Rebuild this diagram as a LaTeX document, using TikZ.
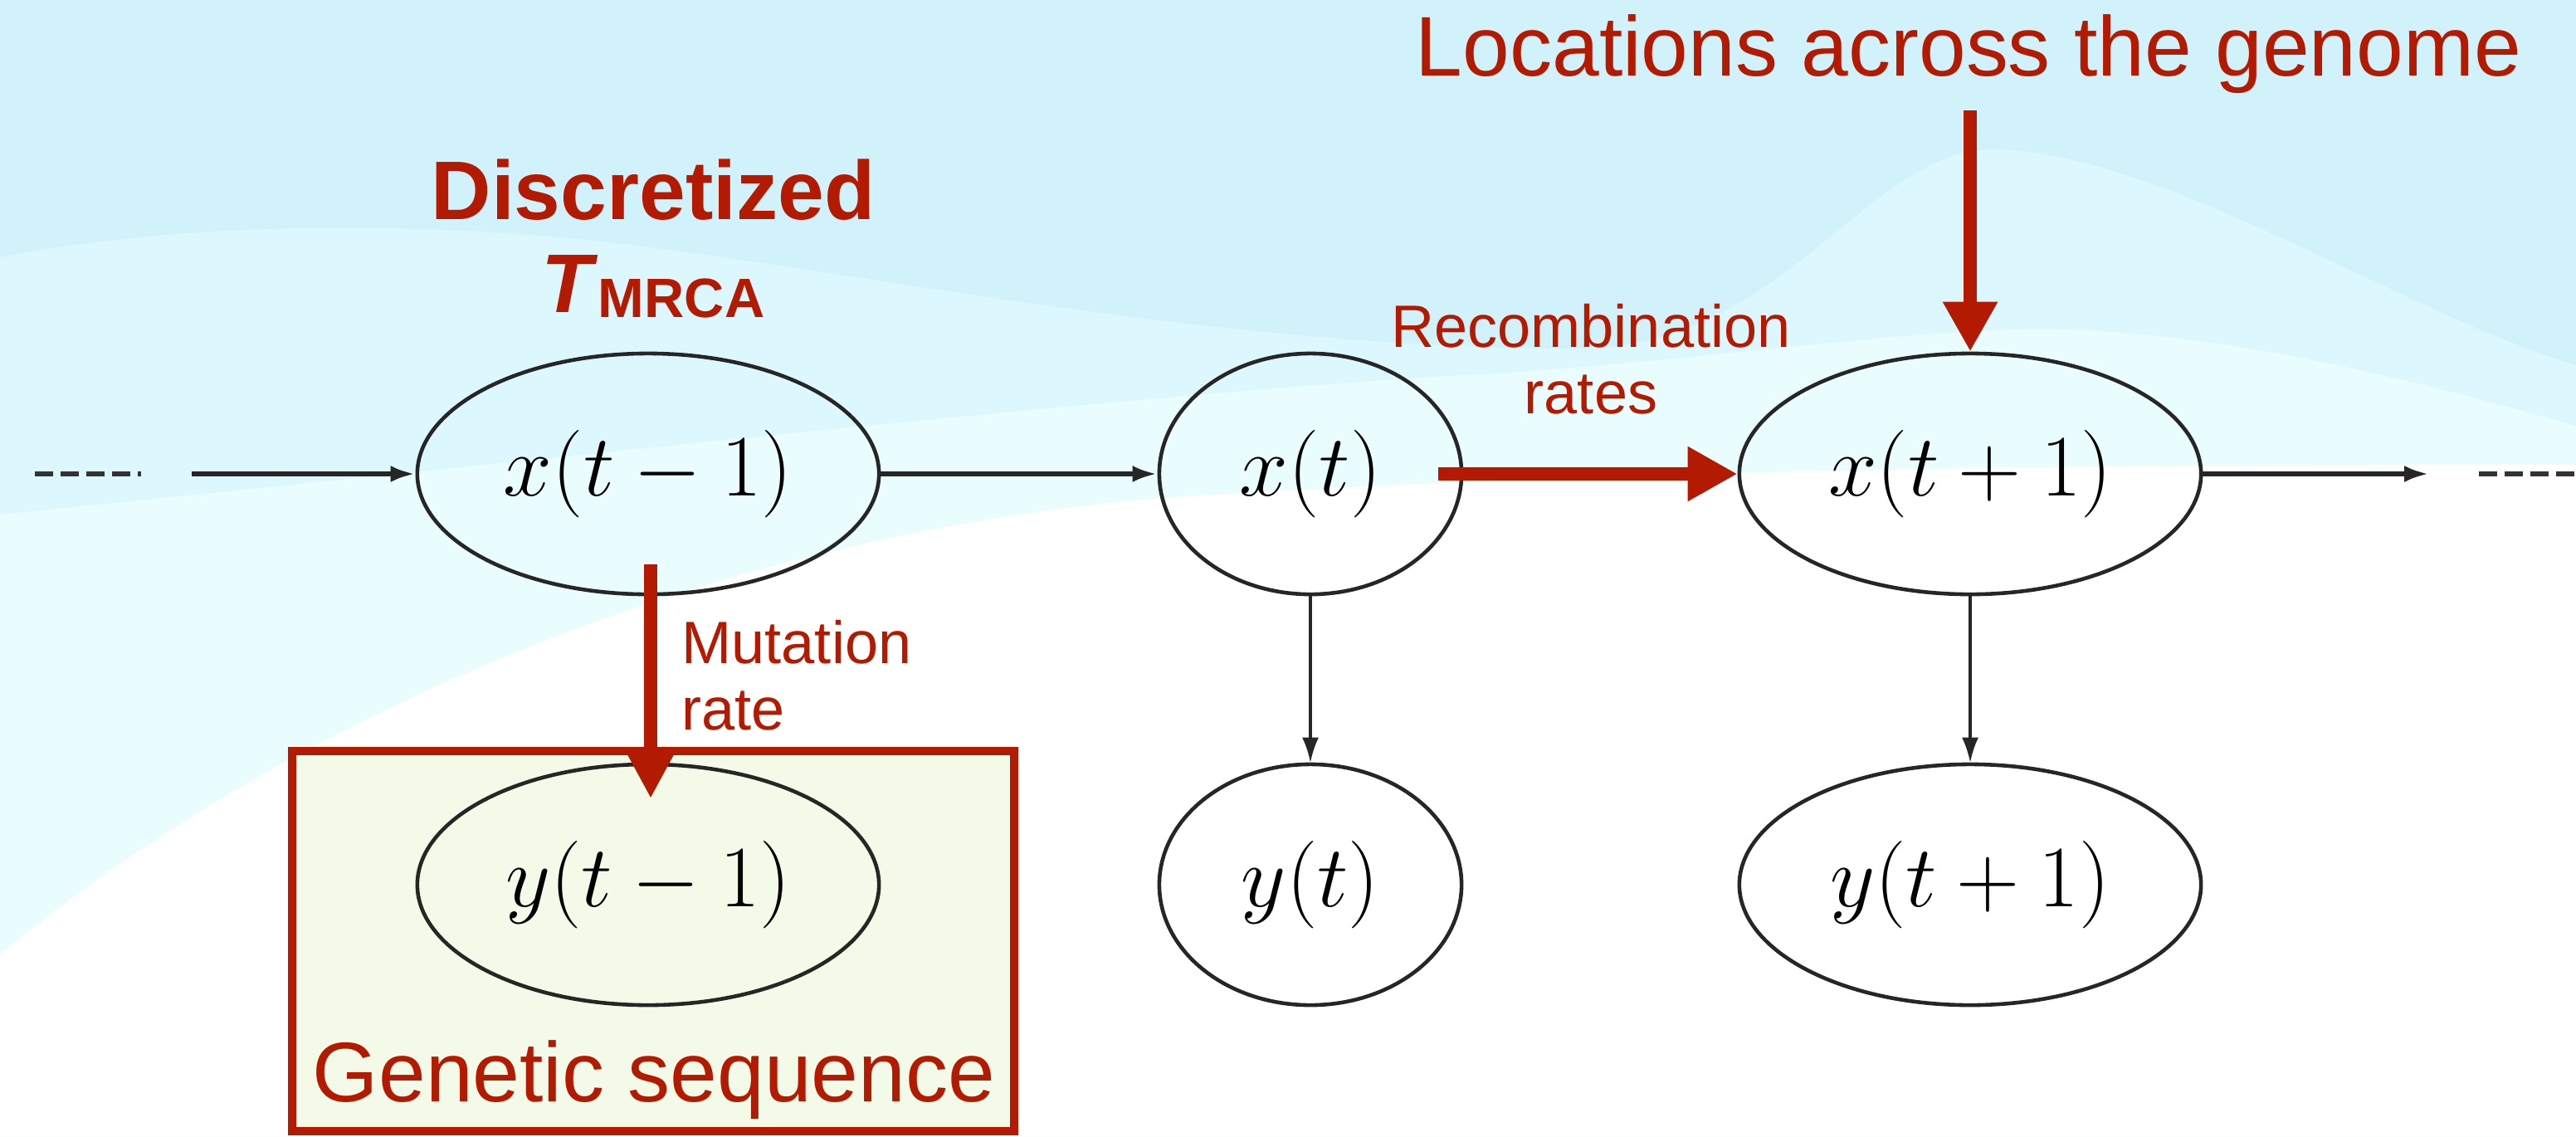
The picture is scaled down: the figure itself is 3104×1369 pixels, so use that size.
\RequirePackage{fix-cm}
\documentclass[tikz,border=0pt]{standalone}
\usepackage{fontspec}
\newfontfamily\hfont{Liberation Sans}
\usetikzlibrary{shapes.geometric,arrows.meta}
\definecolor{hred}{RGB}{178,26,2}
\definecolor{bgtop}{RGB}{209,241,251}
\definecolor{bgmid}{RGB}{220,247,253}
\definecolor{bglow}{RGB}{233,252,254}
\definecolor{seqfill}{RGB}{244,250,232}

\begin{document}
\begin{tikzpicture}[x=0.01cm,y=-0.01cm,
  hmmnode/.style={ellipse,draw=black!85,line width=1.3pt,inner sep=0pt,minimum height=2.9cm,font=\fontsize{30}{36}\selectfont},
  widenode/.style={hmmnode,minimum width=5.56cm},
  narrownode/.style={hmmnode,minimum width=3.64cm},
  lbl/.style={text=hred,inner sep=0pt,font=\hfont\fontsize{20.5}{22.5}\selectfont},
  biglbl/.style={text=hred,inner sep=0pt,font=\hfont\fontsize{29}{34}\selectfont},
  flow/.style={black!85,line width=1.8pt,-{Latex[length=0.3cm,width=0.2cm]}},
  emit/.style={black!85,line width=0.9pt,-{Latex[length=0.3cm,width=0.2cm]}},
  redarr/.style={hred,line width=4.6pt,-{Triangle[length=0.6cm,width=0.62cm]}},
  dashline/.style={black!80,line width=1.8pt,dash pattern=on 0.22cm off 0.09cm}]
\useasboundingbox (0,0) rectangle (3104,1369);
\clip (0,0) rectangle (3104,1369);
% background waves
\fill[bgtop] (0,0) rectangle (3104,1369);
\fill[bgmid] (0,310) .. controls (200,270) and (500,260) .. (800,300) .. controls (1100,340) and (1500,420) .. (1900,420) .. controls (2150,420) and (2250,180) .. (2400,180) .. controls (2600,180) and (2900,380) .. (3104,440) -- (3104,1369) -- (0,1369) -- cycle;
\fill[bglow] (0,620) .. controls (600,560) and (1400,470) .. (1800,450) .. controls (2100,430) and (2300,395) .. (2475,397) .. controls (2700,400) and (2950,470) .. (3104,513) -- (3104,1369) -- (0,1369) -- cycle;
\fill[white] (0,1150) .. controls (300,900) and (800,650) .. (1400,600) .. controls (2000,560) and (2700,560) .. (3104,560) -- (3104,1369) -- (0,1369) -- cycle;
% observed sequence box
\draw[hred,line width=3.1pt,fill=seqfill] (352,905) rectangle (1222,1363);
% hidden and observed states
\node[widenode] (xm) at (781,571) {$x(t-1)$};
\node[narrownode] (x0) at (1579,571) {$x(t)$};
\node[widenode] (xp) at (2374,571) {$x(t+1)$};
\node[widenode] (ym) at (781,1066) {$y(t-1)$};
\node[narrownode] (y0) at (1579,1066) {$y(t)$};
\node[widenode] (yp) at (2374,1066) {$y(t+1)$};
% labels (base = last line)
\node[biglbl,anchor=base] (loc) at (2372,91) {Locations across the genome};
\node[biglbl,anchor=base] (seq) at (788,1327) {Genetic sequence};
\node[lbl,anchor=base,align=center] (rec) at (1917,498) {Recombination\\rates};
\node[lbl,anchor=base west,align=left] (mut) at (821,879) {Mutation\\rate};
\node[text=hred,inner sep=0pt,anchor=base,align=center,font=\hfont\bfseries\fontsize{28.5}{31.6}\selectfont] (tm) at (787,376) {Discretized\\\textit{T}\raisebox{-0.06cm}{\fontsize{19}{20}\selectfont MRCA}};
% chain
\coordinate (lin) at (231,571);
\coordinate (lout) at (2927,571);
\draw[dashline] (42,571) -- (170,571);
\draw[dashline] (2987,571) -- (3110,571);
\draw[flow] (lin) -- (xm);
\draw[flow] (xm) -- (x0);
\draw[flow] (xp) -- (lout);
\draw[emit] (x0) -- (y0);
\draw[emit] (xp) -- (yp);
% red annotations
\coordinate (recS) at (1733,571);
\coordinate (locS) at (2374,133);
\coordinate (mutS) at (784,680);
\coordinate (mutE) at (784,962);
\draw[redarr] (recS) -- (xp);
\draw[redarr] (locS) -- (xp);
\draw[redarr,-{Triangle[length=0.53cm,width=0.52cm]}] (mutS) -- (mutE);
\end{tikzpicture}
\end{document}
